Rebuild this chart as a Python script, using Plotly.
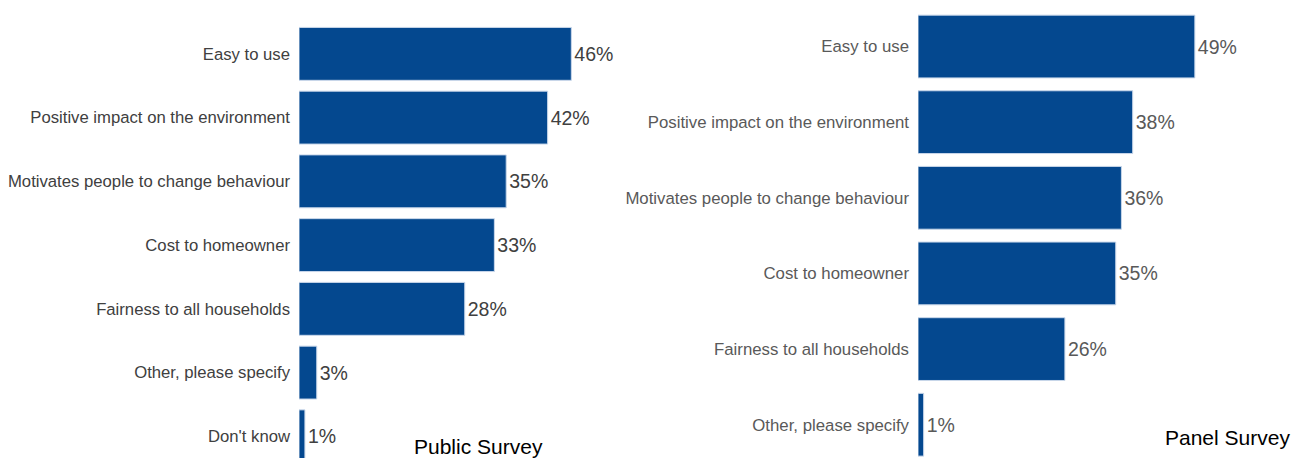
import plotly.graph_objects as go

# Survey responses: share of respondents selecting each factor
public_labels = ["Easy to use", "Positive impact on the environment",
                 "Motivates people to change behaviour", "Cost to homeowner",
                 "Fairness to all households", "Other, please specify", "Don't know"]
public_values = [46, 42, 35, 33, 28, 3, 1]

panel_labels = ["Easy to use", "Positive impact on the environment",
                "Motivates people to change behaviour", "Cost to homeowner",
                "Fairness to all households", "Other, please specify"]
panel_values = [49, 38, 36, 35, 26, 1]

BAR = "#04488f"
EDGE = "#c9d7ea"
FONT = "Liberation Sans, Arial, sans-serif"
W, H = 1291, 458

fig = go.Figure()

fig.add_trace(go.Bar(
    x=public_values, y=public_labels, orientation="h",
    marker=dict(color=BAR, line=dict(color=EDGE, width=1)),
    text=[f"{v}%" for v in public_values], textposition="outside",
    textfont=dict(family=FONT, size=19.5, color="#404040"),
    cliponaxis=False, xaxis="x", yaxis="y", showlegend=False,
))
fig.add_trace(go.Bar(
    x=panel_values, y=panel_labels, orientation="h",
    marker=dict(color=BAR, line=dict(color=EDGE, width=1)),
    text=[f"{v}%" for v in panel_values], textposition="outside",
    textfont=dict(family=FONT, size=19.5, color="#595959"),
    cliponaxis=False, xaxis="x2", yaxis="y2", showlegend=False,
))

hidden_x = dict(showgrid=False, zeroline=False, showticklabels=False, showline=False, ticks="")

fig.update_layout(
    width=W, height=H,
    margin=dict(l=0, r=0, t=0, b=0),
    paper_bgcolor="white", plot_bgcolor="white",
    bargap=0.17,
    font=dict(family=FONT),
    uniformtext=dict(mode=False),
    xaxis=dict(domain=[299 / W, 599 / W], range=[0, 300 / 5.92], anchor="y", **hidden_x),
    xaxis2=dict(domain=[918 / W, 1218 / W], range=[0, 300 / 5.65], anchor="y2", **hidden_x),
    yaxis=dict(domain=[0, (H - 22) / H], range=[6.34, -0.5], anchor="x",
               type="category", categoryorder="array", categoryarray=public_labels,
               showgrid=False, zeroline=False, showline=False, ticks="",
               ticklabelstandoff=8,
               tickfont=dict(family=FONT, size=16.7, color="#404040")),
    yaxis2=dict(domain=[0, (H - 8.7) / H], range=[5.44, -0.5], anchor="x2",
                type="category", categoryorder="array", categoryarray=panel_labels,
                showgrid=False, zeroline=False, showline=False, ticks="",
                ticklabelstandoff=8,
                tickfont=dict(family=FONT, size=16.8, color="#595959")),
    annotations=[
        dict(text="Public Survey", x=412 / W, y=(H - 446) / H, xref="paper", yref="paper",
             xanchor="left", yanchor="middle", showarrow=False,
             font=dict(family=FONT, size=21, color="#000000")),
        dict(text="Panel Survey", x=1163 / W, y=(H - 437) / H, xref="paper", yref="paper",
             xanchor="left", yanchor="middle", showarrow=False,
             font=dict(family=FONT, size=21, color="#000000")),
    ],
)

fig.write_html("out.html")
